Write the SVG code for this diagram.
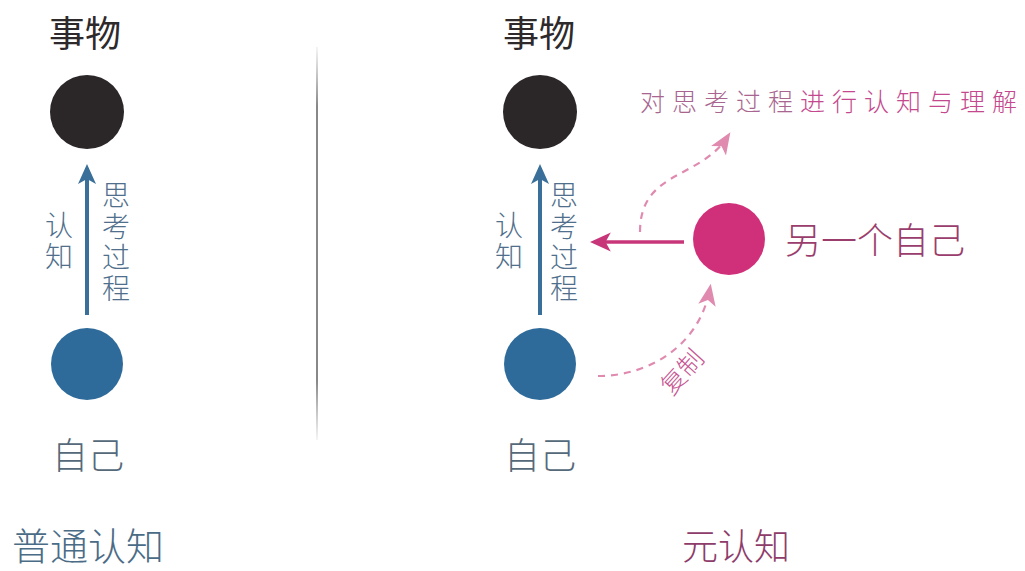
<svg xmlns="http://www.w3.org/2000/svg" width="1025" height="571" viewBox="0 0 1025 571">
<style>
text{font-family:"Noto Sans CJK SC","Noto Sans",sans-serif;font-weight:300;}
.big{font-size:36px;}
.obj{fill:#2e2a2b;font-weight:400;}
.self{fill:#55697a;}
.lbl{font-size:28px;fill:#4f6f8c;writing-mode:vertical-rl;letter-spacing:3px;}
.title-l{font-size:38px;fill:#4b6c86;}
.title-r{font-size:36px;fill:#8e3c6a;}
</style>
<defs>
<marker id="ab" viewBox="0 0 20 20" refX="16" refY="10" markerWidth="5" markerHeight="5" orient="auto" markerUnits="strokeWidth">
<path d="M0,1 L20,10 L0,19 L5,10 Z" fill="#3a6f99"/>
</marker>
<marker id="ap" viewBox="0 0 20 20" refX="16" refY="10" markerWidth="6" markerHeight="6" orient="auto" markerUnits="strokeWidth">
<path d="M0,1 L20,10 L0,19 L5,10 Z" fill="#c8367a"/>
</marker>
<marker id="ad" viewBox="0 0 20 20" refX="16" refY="10" markerWidth="10" markerHeight="10" orient="auto" markerUnits="strokeWidth">
<path d="M0,2 L20,10 L0,18 L5,10 Z" fill="#e08ab0"/>
</marker>
<linearGradient id="sep" x1="0" y1="0" x2="0" y2="1">
<stop offset="0" stop-color="#999" stop-opacity="0.1"/>
<stop offset="0.15" stop-color="#888"/>
<stop offset="0.85" stop-color="#888"/>
<stop offset="1" stop-color="#999" stop-opacity="0.1"/>
</linearGradient>
</defs>

<rect x="0" y="0" width="1025" height="571" fill="#ffffff"/>

<rect x="316" y="47" width="2" height="393" fill="url(#sep)"/>

<g id="left-thing">
<text class="big obj" x="85" y="47" text-anchor="middle">事物</text>
<circle cx="87" cy="112" r="37" fill="#2b2627"/>
</g>
<g id="left-self">
<circle cx="87" cy="364" r="36" fill="#2f6b9a"/>
<text class="big self" x="88" y="469" text-anchor="middle">自己</text>
</g>
<g id="left-labels">
<text class="lbl" x="59" y="211">认知</text>
<text class="lbl" x="116" y="181">思考过程</text>
</g>
<g id="left-title">
<text class="title-l" x="12" y="560">普通认知</text>
</g>

<g id="right-thing">
<text class="big obj" x="539" y="47" text-anchor="middle">事物</text>
<circle cx="540" cy="112" r="37" fill="#2b2627"/>
</g>
<g id="right-self">
<circle cx="540" cy="364" r="36" fill="#2f6b9a"/>
<text class="big self" x="540" y="469" text-anchor="middle">自己</text>
</g>
<g id="right-labels">
<text class="lbl" x="509" y="211">认知</text>
<text class="lbl" x="564" y="181">思考过程</text>
</g>
<g id="other-self">
<circle cx="729" cy="239" r="36" fill="#d0307a"/>
<text class="big" x="785" y="254" fill="#9a3d6c">另一个自己</text>
</g>
<g id="meta-label">
<text x="640" y="111" font-size="25" letter-spacing="7" fill="#b45590"><tspan fill="#a8658f">对思考过程</tspan><tspan fill="#c4488e">进行认知与理解</tspan></text>
</g>
<g id="copy-label">
<text x="682" y="381" font-size="25" fill="#c65592" text-anchor="middle" transform="rotate(-48 682 372)">复制</text>
</g>
<g id="right-title">
<text class="title-r" x="682" y="560">元认知</text>
</g>

<g id="connectors">
<line x1="87" y1="315" x2="87" y2="168" stroke="#3a6f99" stroke-width="4" marker-end="url(#ab)"/>
<line x1="540" y1="315" x2="540" y2="168" stroke="#3a6f99" stroke-width="4" marker-end="url(#ab)"/>
<line x1="684" y1="242" x2="594" y2="242" stroke="#c8367a" stroke-width="3.5" marker-end="url(#ap)"/>
<path d="M640,232 C640,170 700,180 728,136" fill="none" stroke="#e08ab0" stroke-width="2.2" stroke-dasharray="7,6" marker-end="url(#ad)"/>
<path d="M598,376 C650,376 700,345 710,288" fill="none" stroke="#e08ab0" stroke-width="2.2" stroke-dasharray="7,6" marker-end="url(#ad)"/>
</g>
</svg>
